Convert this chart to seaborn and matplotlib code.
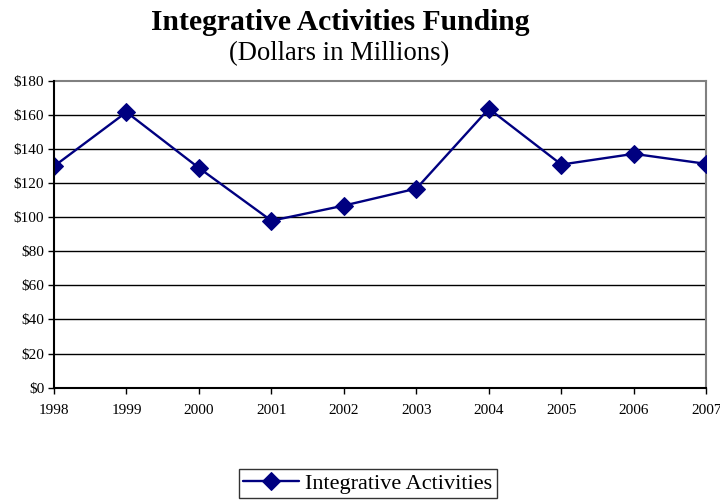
import matplotlib
matplotlib.use("Agg")
import matplotlib.pyplot as plt
import seaborn as sns
import pandas as pd

years = ["1998", "1999", "2000", "2001", "2002", "2003", "2004", "2005", "2006", "2007"]
funding = [130.0, 161.8, 129.0, 98.0, 106.9, 116.9, 163.8, 131.0, 137.3, 131.4]
yticks = [0, 20, 40, 60, 80, 100, 120, 140, 160, 180]
ytick_labels = ["$0", "$20", "$40", "$60", "$80", "$100", "$120", "$140", "$160", "$180"]
series_name = "Integrative Activities"

sns.set_style("white")
plt.rcParams["font.family"] = ["Liberation Serif", "DejaVu Serif"]
plt.rcParams["text.color"] = "black"
plt.rcParams["xtick.color"] = "black"
plt.rcParams["ytick.color"] = "black"
plt.rcParams["axes.labelcolor"] = "black"

df = pd.DataFrame({"Year": years, "Funding": funding})
df["x"] = range(len(years))

fig = plt.figure(figsize=(7.2, 5.04), dpi=100)
ax = fig.add_axes([0.075, 0.231, 0.906, 0.608])

sns.lineplot(data=df, x="x", y="Funding", ax=ax, color="#000080", linewidth=1.7,
             marker="D", markersize=9, markeredgecolor="#000080",
             label=series_name, legend=False, zorder=3)

ax.set_xlim(0, len(years) - 1)
ax.set_ylim(0, 180)
ax.set_xticks(range(len(years)))
ax.set_xticklabels(years, fontsize=11)
ax.set_yticks(yticks)
ax.set_yticklabels(ytick_labels, fontsize=11)
ax.set_xlabel("")
ax.set_ylabel("")
for y in yticks[1:-1]:
    ax.axhline(y, color="black", linewidth=1, zorder=0)

ax.spines["left"].set_color("black")
ax.spines["bottom"].set_color("black")
ax.spines["left"].set_linewidth(1.5)
ax.spines["bottom"].set_linewidth(1.5)
ax.spines["top"].set_color("#808080")
ax.spines["right"].set_color("#808080")
ax.spines["top"].set_linewidth(1.5)
ax.spines["right"].set_linewidth(1.5)
ax.spines["left"].set_zorder(4)
ax.tick_params(axis="both", direction="out", length=4, width=1, color="black",
               bottom=True, left=True)
ax.tick_params(axis="x", pad=8)
ax.tick_params(axis="y", pad=3)

fig.text(0.472, 0.955, "Integrative Activities Funding", ha="center", va="center",
         fontsize=21.3, fontweight="bold")
fig.text(0.471, 0.893, "(Dollars in Millions)", ha="center", va="center", fontsize=19.2)

handles, labels = ax.get_legend_handles_labels()
leg = fig.legend(handles, labels, loc="center", bbox_to_anchor=(0.511, 0.041),
                 fontsize=16, frameon=True, fancybox=False, edgecolor="black",
                 handlelength=2.5, handletextpad=0.3, borderpad=0.2, borderaxespad=0)
leg.get_frame().set_linewidth(1)

fig.savefig("out.png", dpi=100)
